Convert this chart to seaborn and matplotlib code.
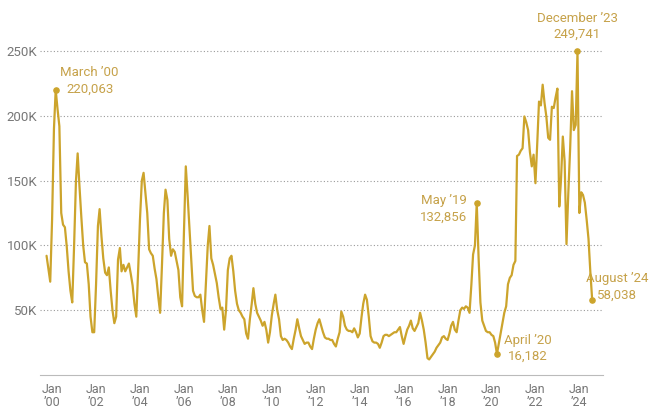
"""
plot.py: monthly encounters line chart, Oct 1999 - Aug 2024, with labelled highs and lows.
"""

import matplotlib
matplotlib.use("Agg")
import matplotlib.pyplot as plt
import matplotlib.dates as mdates
import numpy as np
import pandas as pd
import seaborn as sns


# ============================================================
# DATA (thousands per month)
# ============================================================
START_MONTH = "1999-10-01"

values_k = [
    92, 82, 72, 120, 190, 220.063, 205, 192, 125, 116, 114, 99,
    80, 65, 56, 100, 150, 171, 145, 122, 100, 87, 86, 70,
    45, 33, 33, 70, 115, 128, 107, 90, 79, 77, 83, 65,
    50, 40, 45, 89, 98, 80, 85, 80, 83, 86, 78, 69,
    55, 45, 80, 120, 150, 156, 140, 125, 97, 94, 92, 82,
    74, 60, 48, 85, 125, 143, 135, 105, 92, 97, 95, 88,
    81, 60, 53, 110, 161, 140, 115, 90, 65, 61, 60, 60,
    62, 50, 41, 70, 100, 115, 90, 85, 78, 71, 60, 51,
    52, 35, 50, 81, 90, 92, 80, 65, 55, 50, 48, 45,
    43, 32, 28, 43, 55, 67, 55, 48, 45, 42, 38, 41,
    35, 25, 33, 46, 55, 62, 50, 43, 30, 27, 28, 27,
    25, 22, 20, 28, 35, 43, 36, 30, 27, 24, 25, 25,
    22, 20, 28, 35, 40, 43, 38, 33, 29, 28, 28, 27,
    27, 24, 22, 28, 33, 49, 45, 38, 35, 34, 34, 33,
    36, 33, 29, 32, 45, 55, 62, 58, 45, 30, 26, 25,
    25, 24, 21, 25, 30, 31, 31, 30, 31, 32, 33, 33,
    35, 37, 30, 24, 30, 35, 38, 42, 36, 34, 37, 40,
    48, 42, 35, 25, 13, 12, 14, 16, 18, 21, 23, 25,
    29, 30, 28, 27, 32, 38, 41, 35, 33, 42, 50, 52,
    51, 53, 52, 48, 70, 93, 100, 132.856, 90, 56, 42, 38,
    34, 33, 33, 31, 30, 25, 16.182, 24, 32, 40, 48, 53,
    70, 75, 77, 85, 88, 169, 170, 173, 175, 199.5, 195, 189,
    172, 161, 170, 148, 180, 211, 208, 224, 210, 199.5, 183, 181.5,
    207, 206, 214, 221, 130, 150, 184, 165, 101, 140, 175, 219,
    189, 193, 249.741, 125, 141, 139, 133, 120, 105, 80, 58.038,
]

callout_months = ["2000-03-01", "2019-05-01", "2020-04-01", "2023-12-01", "2024-08-01"]
callout_names  = ["March \u201900", "May \u201919", "April \u201920", "December \u201923", "August \u201924"]
callout_values = ["220,063", "132,856", "16,182", "249,741", "58,038"]

y_ticks       = [50, 100, 150, 200, 250]
y_tick_labels = ["50K", "100K", "150K", "200K", "250K"]

label_years = list(range(2000, 2025, 2))


# ============================================================
# STYLE
# ============================================================
LINE_COLOR = "#cca42c"
TEXT_GOLD  = "#c6a24a"
GREY_TEXT  = "#777777"
GRID_COLOR = "#9a9a9a"

sns.set_theme(style="white")
plt.rcParams["font.family"] = ["Roboto", "DejaVu Sans"]


def main():
    df = pd.DataFrame({
        "month": pd.date_range(START_MONTH, periods=len(values_k), freq="MS"),
        "encounters": values_k,
    })

    fig = plt.figure(figsize=(6.5, 4.12), dpi=100)
    ax = fig.add_axes([40 / 650, (412 - 375) / 412, (603 - 40) / 650, (375 - 40) / 412])

    sns.lineplot(data=df, x="month", y="encounters", ax=ax,
                 color=LINE_COLOR, linewidth=1.6, zorder=3)

    # axes ranges
    ax.set_xlim(pd.Timestamp("1999-06-14"), pd.Timestamp("2025-01-28"))
    ax.set_ylim(0, 258.5)

    # horizontal dotted grid
    ax.set_yticks(y_ticks)
    ax.set_yticklabels(y_tick_labels)
    ax.yaxis.grid(True, linestyle=(0, (1, 2)), color=GRID_COLOR, linewidth=0.8)
    ax.xaxis.grid(False)
    ax.tick_params(axis="y", length=0, pad=2, labelsize=9.5, labelcolor=GREY_TEXT)

    # x ticks: labelled every two years, small mark every year
    major = [pd.Timestamp(f"{y}-01-01") for y in label_years]
    ax.set_xticks(major)
    ax.set_xticklabels([f"Jan\n\u2019{str(y)[2:]}" for y in label_years], linespacing=1.0)
    ax.xaxis.set_minor_locator(mdates.YearLocator(1))
    ax.tick_params(axis="x", which="major", length=5, width=0.8, color="#aaaaaa",
                   pad=1, labelsize=9, labelcolor=GREY_TEXT)
    ax.tick_params(axis="x", which="minor", length=5, width=0.8, color="#aaaaaa")
    ax.set_xlabel("")
    ax.set_ylabel("")

    for side in ["top", "right", "left"]:
        ax.spines[side].set_visible(False)
    ax.spines["bottom"].set_color("#bbbbbb")
    ax.spines["bottom"].set_linewidth(0.8)

    # callouts
    offsets = {
        "2000-03-01": (34, 9, "center"),
        "2019-05-01": (-10, -6, "right"),
        "2020-04-01": (31, 6, "center"),
        "2023-12-01": (0, 25, "center"),
        "2024-08-01": (25, 13, "center"),
    }
    lookup = df.set_index("month")["encounters"]
    for month, name, val in zip(callout_months, callout_names, callout_values):
        t = pd.Timestamp(month)
        y = lookup[t]
        ax.scatter([t], [y], s=14, color=LINE_COLOR, zorder=4)
        dx, dy, ha = offsets[month]
        ax.annotate(f"{name}\n{val}", xy=(t, y), xytext=(dx, dy),
                    textcoords="offset pixels", ha=ha, va="center",
                    fontsize=9.5, color=TEXT_GOLD, linespacing=1.3,
                    bbox=dict(boxstyle="square,pad=0.1", fc="white", ec="none"),
                    annotation_clip=False, zorder=2)

    fig.savefig("out.png", dpi=100)
    plt.close(fig)


if __name__ == "__main__":
    main()
